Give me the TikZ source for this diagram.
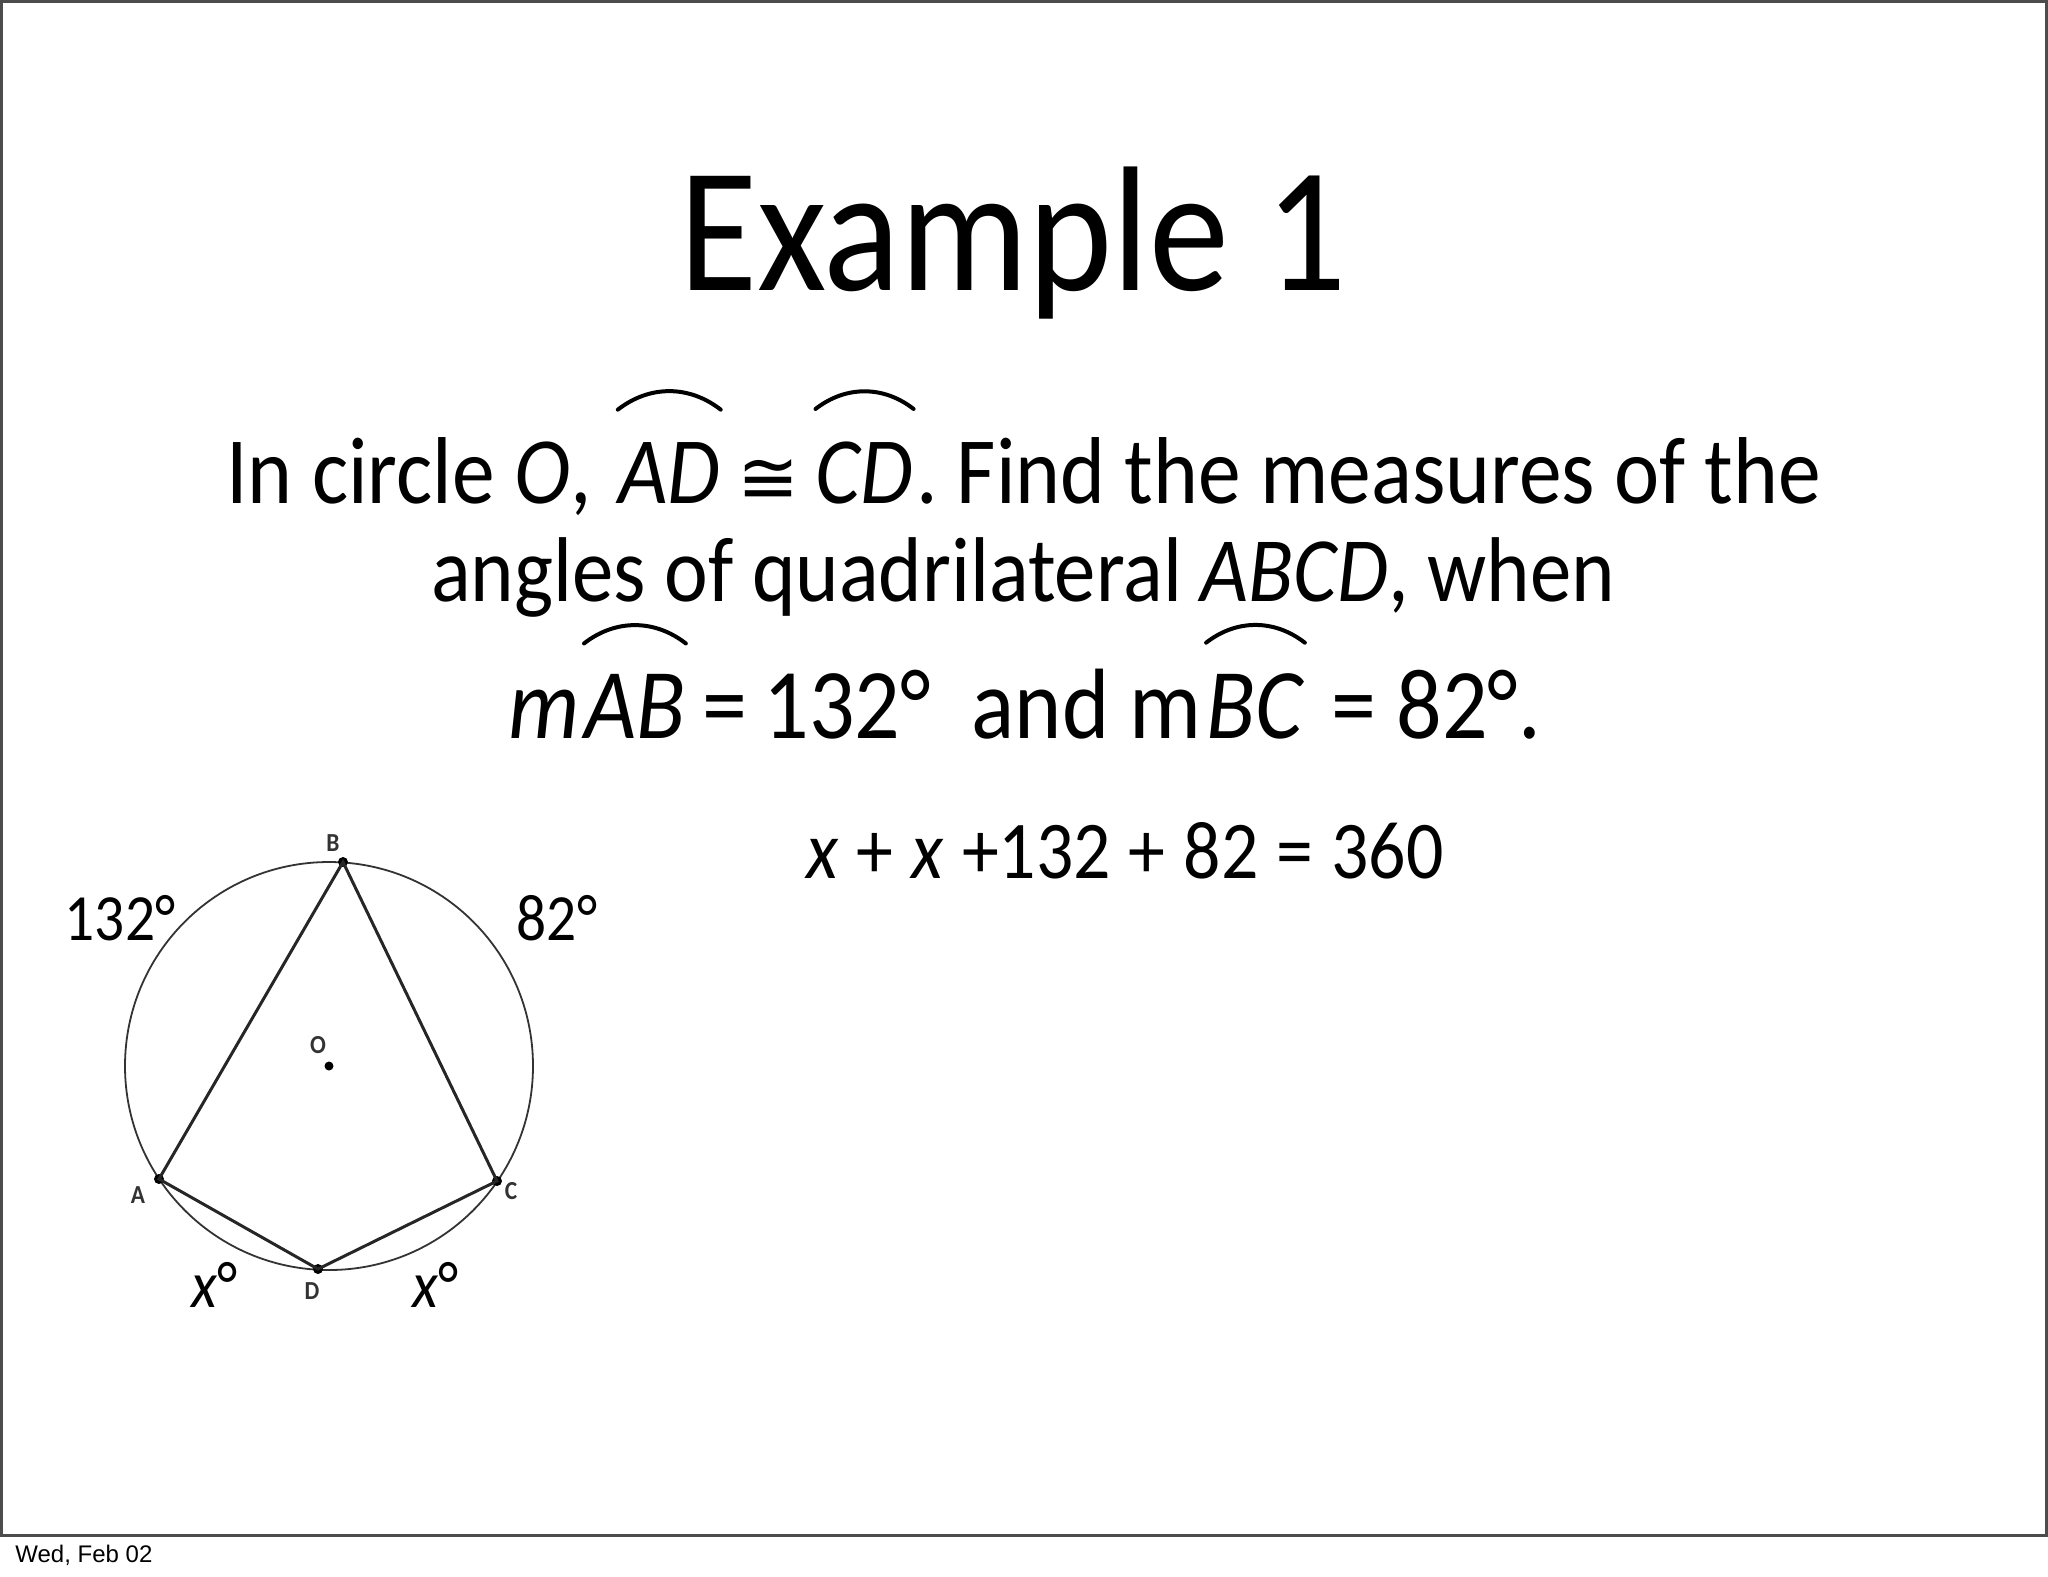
\documentclass[tikz,border=0pt]{standalone}
\usepackage{fontspec}
\setmainfont{Carlito}[FakeStretch=0.9]
\newfontfamily\datefont{Liberation Sans}
\newfontfamily\symfont{DejaVu Sans}
\usetikzlibrary{positioning}

\begin{document}
\begin{tikzpicture}
  [x=0.5pt, y=-0.5pt,
   txt/.style={inner sep=0pt, anchor=base west},
   title/.style={inner sep=0pt, anchor=base, font=\fontsize{89}{100}\selectfont},
   big/.style={txt, font=\fontsize{47.5}{52}\selectfont},
   bigger/.style={txt, font=\fontsize{50}{54}\selectfont},
   eqn/.style={txt, font=\fontsize{41}{44}\selectfont},
   arcmark/.style={line width=2pt, line cap=round},
   frame/.style={draw=black!70, line width=1.5pt},
   side/.style={line width=1.5pt, black!85},
   dot/.style={circle, fill=black, inner sep=0pt, minimum size=5pt},
   pt/.style={inner sep=0pt, text=black!80, font=\fontsize{13}{15}\selectfont\bfseries},
   deg/.style={inner sep=0pt, font=\fontsize{33}{36}\selectfont}]
  \useasboundingbox (0,0) rectangle (2048,1576);
  \draw[frame] (1,1) rectangle (2046,1535);

  \node[title] (head) at (1013,290) {Example 1};

  % first line, with the arcs over AD and CD
  \node[big] (l1a) at (226,503) {In circle \textit{O},};
  \node[big, right=13pt of l1a.base east, anchor=base west] (ad) {\textit{AD}};
  \node[big, right=8pt of ad.base east, anchor=base west] (cong) {\symfont\fontsize{37}{37}\selectfont ≅};
  \node[big, right=8pt of cong.base east, anchor=base west] (cd) {\textit{CD}};
  \node[big, right=1pt of cd.base east, anchor=base west] (l1b) {.\ Find the measures of the};
  \draw[arcmark] ([yshift=16pt]ad.north west) to[bend left=38] ([yshift=16pt]ad.north east);
  \draw[arcmark] ([yshift=16pt]cd.north west) to[bend left=38] ([yshift=16pt]cd.north east);

  \node[big, font=\fontsize{46}{50}\selectfont, anchor=base] (l2) at (1023,601) {angles of quadrilateral \textit{ABCD}, when};

  % third line
  \node[bigger] (m1) at (508,738) {\textit{m}};
  \node[bigger, right=2pt of m1.base east, anchor=base west] (ab) {\textit{AB}};
  \node[bigger, right=8pt of ab.base east, anchor=base west] (l3a) {=\,132° \ and m};
  \node[bigger, right=2pt of l3a.base east, anchor=base west] (bc) {\textit{BC}};
  \node[bigger, right=13pt of bc.base east, anchor=base west] (l3b) {=\ 82°.};
  \draw[arcmark] ([yshift=15pt]ab.north west) to[bend left=38] ([yshift=15pt]ab.north east);
  \draw[arcmark] ([yshift=15pt]bc.north west) to[bend left=38] ([yshift=15pt]bc.north east);

  \node[eqn] (sum) at (806,878) {\textit{x}\hspace{9pt}+\hspace{9pt}\textit{x}\hspace{9pt}+132\hspace{9pt}+\hspace{9pt}82\hspace{9pt}=\hspace{9pt}360};

  % the circle and quadrilateral ABCD
  \coordinate (O) at (329,1066);
  \draw[black!80, line width=0.9pt] (O) circle (204);
  \node[dot] (A) at (159,1179) {};
  \node[dot] (B) at (343,862) {};
  \node[dot] (C) at (497,1181) {};
  \node[dot] (D) at (318,1269) {};
  \node[dot, minimum size=4.5pt] (Od) at (O) {};
  \draw[side] (A.center) -- (B.center) -- (C.center) -- (D.center) -- cycle;

  \node[pt] (lA) at (138,1195) {A};
  \node[pt] (lB) at (333,843) {B};
  \node[pt] (lC) at (511,1191) {C};
  \node[pt] (lD) at (312,1291) {D};
  \node[pt] (lO) at (318,1045) {O};

  \node[deg] (arcAB) at (120,918) {132°};
  \node[deg] (arcBC) at (557,918) {82°};
  \node[deg] (arcAD) at (215,1285) {\textit{x}°};
  \node[deg] (arcCD) at (436,1285) {\textit{x}°};

  \node[txt, font=\datefont\fontsize{12}{14}\selectfont] (date) at (15,1562) {Wed, Feb 02};
\end{tikzpicture}
\end{document}
